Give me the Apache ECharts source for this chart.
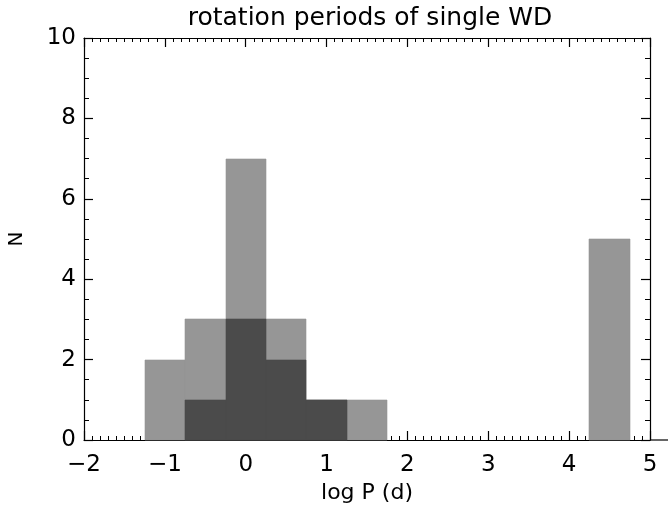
<!DOCTYPE html>
<html><head><meta charset="utf-8">
<script src="https://cdn.jsdelivr.net/npm/echarts@6/dist/echarts.min.js"></script>
<style>html,body{margin:0;padding:0;background:#fff}#c{width:668px;height:514px}</style>
</head><body><div id="c"></div>
<script>
// histogram data (log P bins, width 0.5)
var binWidth = 0.5;
var allBinStart = [-1.25, -0.75, -0.25, 0.25, 0.75, 1.25, 4.25];
var allCounts   = [2, 3, 7, 3, 1, 1, 5];
var subBinStart = [-0.75, -0.25, 0.25, 0.75];
var subCounts   = [1, 3, 2, 1];
var xTicks = [-2, -1, 0, 1, 2, 3, 4, 5];
var yTicks = [0, 2, 4, 6, 8, 10];

function toData(starts, counts) {
  return starts.map(function (s, i) { return [s, s + binWidth, counts[i]]; });
}
function renderBar(color) {
  return function (params, api) {
    var p0 = api.coord([api.value(0), 0]);
    var p1 = api.coord([api.value(1), api.value(2)]);
    var x0 = Math.round(p0[0]), x1 = Math.round(p1[0]);
    var y0 = Math.round(p0[1]), y1 = Math.round(p1[1]);
    return {
      type: 'rect',
      shape: { x: x0, y: y1, width: x1 - x0, height: y0 - y1 },
      style: { fill: color, stroke: color, lineWidth: 0.6 }
    };
  };
}
var FONT = '"DejaVu Sans", sans-serif';
var chart = echarts.init(document.getElementById('c'));
var axisCommon = {
  axisLine: { show: true, onZero: false, lineStyle: { color: '#000', width: 1.2 } },
  axisTick: { show: true, inside: true, length: 9, lineStyle: { color: '#000', width: 1.2 } },
  minorTick: { show: true, length: 4, lineStyle: { color: '#000', width: 1 } },
  splitLine: { show: false }
};
chart.setOption({
  animation: false,
  backgroundColor: '#fff',
  title: {
    text: 'rotation periods of single WD', left: 365, top: 1, textAlign: 'center',
    textStyle: { fontFamily: FONT, fontSize: 25, fontWeight: 'normal', color: '#000' }
  },
  grid: { left: 84, right: 18, top: 38, bottom: 74, outerBoundsMode: 'none', containLabel: false },
  xAxis: [
    Object.assign({}, axisCommon, {
      type: 'value', min: xTicks[0], max: xTicks[xTicks.length - 1], interval: 1, position: 'bottom',
      minorTick: Object.assign({}, axisCommon.minorTick, { splitNumber: 10 }),
      axisLabel: { fontFamily: FONT, fontSize: 23, color: '#000', margin: 14,
        formatter: function (v) { return v < 0 ? '\u2212' + (-v) : String(v); } },
      name: 'log P (d)', nameLocation: 'middle', nameGap: 40,
      nameTextStyle: { fontFamily: FONT, fontSize: 22, color: '#000' }
    }),
    Object.assign({}, axisCommon, {
      type: 'value', min: xTicks[0], max: xTicks[xTicks.length - 1], interval: 1, position: 'top',
      minorTick: Object.assign({}, axisCommon.minorTick, { splitNumber: 10 }),
      axisLabel: { show: false }
    })
  ],
  yAxis: [
    Object.assign({}, axisCommon, {
      type: 'value', min: yTicks[0], max: yTicks[yTicks.length - 1], interval: 2, position: 'left',
      minorTick: Object.assign({}, axisCommon.minorTick, { splitNumber: 4, length: 5 }),
      axisLabel: { fontFamily: FONT, fontSize: 23, color: '#000', margin: 8 },
      name: 'N', nameLocation: 'middle', nameGap: 57, nameRotate: 90,
      nameTextStyle: { fontFamily: FONT, fontSize: 20, color: '#000' }
    }),
    Object.assign({}, axisCommon, {
      type: 'value', min: yTicks[0], max: yTicks[yTicks.length - 1], interval: 2, position: 'right',
      minorTick: Object.assign({}, axisCommon.minorTick, { splitNumber: 4, length: 5 }),
      axisLabel: { show: false }
    })
  ],
  graphic: [{
    type: 'line', z: 100,
    shape: { x1: 650, y1: 440, x2: 668, y2: 440 },
    style: { stroke: '#000', lineWidth: 1.2 }
  }],
  series: [
    { type: 'custom', name: 'all', renderItem: renderBar('#969696'),
      encode: { x: [0, 1], y: 2 }, data: toData(allBinStart, allCounts), z: 3 },
    { type: 'custom', name: 'sub', renderItem: renderBar('#4b4b4b'),
      encode: { x: [0, 1], y: 2 }, data: toData(subBinStart, subCounts), z: 4 }
  ]
});
</script></body></html>
